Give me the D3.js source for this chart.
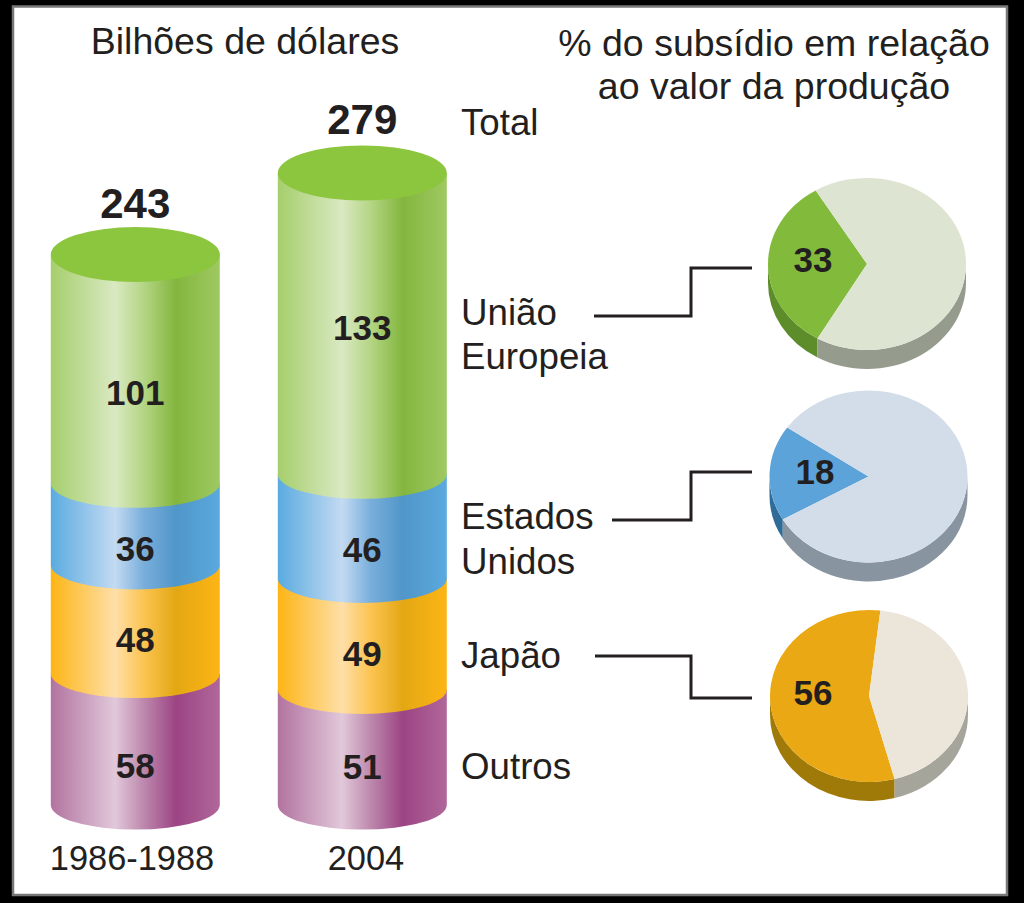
<!DOCTYPE html>
<html><head><meta charset="utf-8">
<script src="https://cdnjs.cloudflare.com/ajax/libs/d3/7.8.5/d3.min.js"></script>
<style>html,body{margin:0;padding:0;background:#000}svg{display:block}text{font-family:"Liberation Sans",Arial,sans-serif;fill:#231f20}</style>
</head><body><div id="c"></div>
<script>
const periods = ["1986-1988", "2004"];
const stackOrder = ["Outros", "Japão", "Estados Unidos", "União Europeia"];
const values1986 = [58, 48, 36, 101];
const values2004 = [51, 49, 46, 133];
const totals = [243, 279];
const pieRegions = ["União Europeia", "Estados Unidos", "Japão"];
const subsidyPct = [33, 18, 56];
const pieRotationDeg = [-150, -120, 165];
const legendLabels = [["Total"], ["União", "Europeia"], ["Estados", "Unidos"], ["Japão"], ["Outros"]];

const W = 1024, H = 903;
const svg = d3.select("#c").append("svg").attr("width", W).attr("height", H);
svg.append("rect").attr("width", W).attr("height", H).attr("fill", "#000");
svg.append("rect").attr("x", 13).attr("y", 6.5).attr("width", 994).attr("height", 888.5)
  .attr("fill", "#fff").attr("stroke", "#777").attr("stroke-width", 2.5);

const defs = svg.append("defs");
const palettes = {
  "União Europeia": ["#a6ce6c", "#d9e9c2", "#b4d584", "#83b63e", "#9fc962"],
  "Estados Unidos": ["#5aabe0", "#c3daf2", "#79aedb", "#5096c9", "#5aa9df"],
  "Japão": ["#fdb515", "#fedfa8", "#fcc451", "#e3a714", "#fdb515"],
  "Outros": ["#b2739f", "#e1c8da", "#bd88ad", "#9c4484", "#b0679a"]
};
const stopAt = [0, 0.38, 0.55, 0.74, 1];
stackOrder.forEach((k, i) => {
  const g = defs.append("linearGradient").attr("id", "g" + i);
  palettes[k].forEach((c, j) => g.append("stop").attr("offset", stopAt[j]).attr("stop-color", c));
});

const y = d3.scaleLinear().domain([0, 279]).range([805, 173]);
const rx = 84.5, ry = 24.5;
const cols = [values1986, values2004];
const centers = [135.3, 362.3];
const valueLabelShift = [[39, 33, 37, 36], [32, 32, 36, 16]];
const totalLabelShift = [37, 39];

periods.forEach((p, c) => {
  const cx = centers[c];
  const g = svg.append("g");
  const cum = cols[c].map((v, i) => d3.sum(cols[c].slice(0, i + 1)));
  stackOrder.forEach((k, i) => {
    const base = i === 0 ? 0 : cum[i - 1];
    const yb = y(base), yt = y(cum[i]);
    g.append("path")
      .attr("d", `M${cx - rx},${yt} L${cx - rx},${yb} A${rx},${ry} 0 0 0 ${cx + rx},${yb} L${cx + rx},${yt} Z`)
      .attr("fill", `url(#g${i})`);
    g.append("text").attr("class", "v").attr("x", cx).attr("y", (yb + yt) / 2 + valueLabelShift[c][i]).attr("text-anchor", "middle")
      .attr("font-size", 35).attr("font-weight", 700).text(cols[c][i]);
  });
  g.append("ellipse").attr("cx", cx).attr("cy", y(totals[c])).attr("rx", rx).attr("ry", 27.5).attr("fill", "#8cc63f");
  g.selectAll("text.v").raise();
  g.append("text").attr("x", cx).attr("y", y(totals[c]) - totalLabelShift[c]).attr("text-anchor", "middle")
    .attr("font-size", 42).attr("font-weight", 700).text(totals[c]);
  svg.append("text").attr("x", [132, 366][c]).attr("y", 870).attr("text-anchor", "middle").attr("font-size", 34.4).text(p);
});

// headings
svg.append("text").attr("x", 245).attr("y", 54).attr("text-anchor", "middle").attr("font-size", 37.5).text("Bilhões de dólares");
svg.append("text").attr("x", 774).attr("y", 56).attr("text-anchor", "middle").attr("font-size", 37.5).text("% do subsídio em relação");
svg.append("text").attr("x", 774).attr("y", 99).attr("text-anchor", "middle").attr("font-size", 37.5).text("ao valor da produção");

// legend labels
const legendY = [135, 325, 369, 529, 574, 668, 779];
legendLabels.flat().forEach((t, i) =>
  svg.append("text").attr("x", 461).attr("y", legendY[i]).attr("font-size", 36.7).text(t));

// connectors
const links = [
  [[594, 316], [691, 316], [691, 268], [752, 268]],
  [[612, 520], [691, 520], [691, 472], [752, 472]],
  [[595, 656], [691, 656], [691, 698], [752, 698]]
];
const line = d3.line();
links.forEach(l => svg.append("path").attr("d", line(l)).attr("fill", "none").attr("stroke", "#231f20").attr("stroke-width", 3));

// pies
const pieCenters = [[867, 264], [868.5, 476.5], [869, 696]];
const pieTop = [["#82bb3c", "#dde4d2"], ["#5ba3d8", "#d2dde9"], ["#eaa914", "#ebe5da"]];
const pieSide = [["#5d8c2b", "#959c8e"], ["#2f6c98", "#8894a0"], ["#a07a08", "#a5a59c"]];
const pRx = 99, pRy = 86, depth = 19;
subsidyPct.forEach((pct, i) => {
  const [cx, cy] = pieCenters[i];
  const start = pieRotationDeg[i] * Math.PI / 180;
  const arcs = d3.pie().sort(null).startAngle(start).endAngle(start + 2 * Math.PI)([pct, 100 - pct]);
  const g = svg.append("g").attr("transform", `translate(${cx},${cy})`);
  const px = a => pRx * Math.sin(a), py = a => -pRy * Math.cos(a);
  arcs.forEach((d, j) => {
    for (const off of [-2 * Math.PI, 0, 2 * Math.PI]) {
      const a0 = Math.max(d.startAngle + off, Math.PI / 2), a1 = Math.min(d.endAngle + off, 3 * Math.PI / 2);
      if (a1 <= a0) continue;
      g.append("path").attr("d",
        `M${px(a0)},${py(a0)} L${px(a0)},${py(a0) + depth} A${pRx},${pRy} 0 0 1 ${px(a1)},${py(a1) + depth} L${px(a1)},${py(a1)} A${pRx},${pRy} 0 0 0 ${px(a0)},${py(a0)} Z`)
        .attr("fill", pieSide[i][j]);
    }
  });
  const arc = d3.arc().innerRadius(0).outerRadius(pRx);
  const top = g.append("g").attr("transform", `scale(1,${pRy / pRx})`);
  arcs.forEach((d, j) => top.append("path").attr("d", arc(d)).attr("fill", pieTop[i][j]));
  const lx = [-54, -53.5, -56][i], ly = [8, 7, 9][i];
  g.append("text").attr("x", lx).attr("y", ly).attr("text-anchor", "middle").attr("font-size", 35).attr("font-weight", 700).text(pct);
});
</script></body></html>
